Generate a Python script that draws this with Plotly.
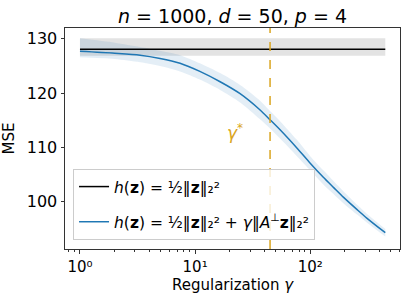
import math
import plotly.graph_objects as go

# ---- data ----
gamma = [1, 2, 3.33, 4.96, 7.4, 11, 16.5, 24.6, 36.7, 44.8, 55, 76.6, 100, 130, 160, 195,
         257, 310, 449]
mse_reg = [127.7, 127.35, 127.0, 126.4, 125.5, 124.0, 122.1, 119.9, 116.9, 115.1, 113.2,
           109.9, 107.1, 104.5, 102.6, 100.8, 98.5, 97.0, 94.3]
mse_reg_upper = [130.1, 129.3, 128.5, 127.8, 127.0, 125.5, 123.7, 121.5, 118.6, 116.7, 114.8,
                 111.4, 108.4, 105.8, 103.8, 101.9, 99.4, 97.8, 95.0]
mse_reg_lower = [126.6, 126.3, 125.7, 125.0, 124.0, 122.5, 120.6, 118.3, 115.2, 113.5, 111.6,
                 108.4, 105.8, 103.2, 101.4, 99.7, 97.6, 96.2, 93.6]

mse_base = 128.1
mse_base_upper = 130.1
mse_base_lower = 126.9

gamma_star = 44.8
gamma_label_pos = (22.0, 112.9)

title_text = "<i>n</i> = 1000, <i>d</i> = 50, <i>p</i> = 4"
legend_base = "<i>h</i>(<b>z</b>) = ½‖<b>z</b>‖₂²"
legend_reg = "<i>h</i>(<b>z</b>) = ½‖<b>z</b>‖₂² + <i>γ</i>‖<i>A</i><sup>⊥</sup><b>z</b>‖₂²"
x_title = "Regularization <i>γ</i>"
y_title = "MSE"
x_ticks = [1, 10, 100]
x_ticktext = ["10⁰", "10¹", "10²"]
x_minor_ticks = [m * 10 ** e for e in (-1, 0, 1, 2) for m in range(2, 10)]
y_ticks = [100, 110, 120, 130]

FONT = "DejaVu Sans"
BLUE = "#1f77b4"
GOLD = "#daa520"
AX = "#333333"

fig = go.Figure()

g_ends = [gamma[0], gamma[-1]]

# baseline band
fig.add_trace(go.Scatter(x=g_ends, y=[mse_base_upper] * 2, mode="lines",
                         line=dict(width=0), showlegend=False, hoverinfo="skip"))
fig.add_trace(go.Scatter(x=g_ends, y=[mse_base_lower] * 2, mode="lines",
                         line=dict(width=0), fill="tonexty",
                         fillcolor="rgba(128,128,128,0.22)", showlegend=False,
                         hoverinfo="skip"))

# regularized band
fig.add_trace(go.Scatter(x=gamma, y=mse_reg_upper, mode="lines",
                         line=dict(width=0, shape="spline", smoothing=0.8), showlegend=False,
                         hoverinfo="skip"))
fig.add_trace(go.Scatter(x=gamma, y=mse_reg_lower, mode="lines",
                         line=dict(width=0, shape="spline", smoothing=0.8), fill="tonexty",
                         fillcolor="rgba(31,119,180,0.12)", showlegend=False,
                         hoverinfo="skip"))

fig.add_trace(go.Scatter(x=g_ends, y=[mse_base] * 2, mode="lines",
                         line=dict(color="black", width=1.5), name=legend_base,
                         legendgroup="a"))
fig.add_trace(go.Scatter(x=gamma, y=mse_reg, mode="lines",
                         line=dict(color=BLUE, width=1.5, shape="spline", smoothing=0.8),
                         name=legend_reg, legendgroup="b"))

fig.add_shape(type="line", xref="x", yref="y domain", x0=gamma_star, x1=gamma_star,
              y0=0, y1=1, line=dict(color=GOLD, width=1.5, dash="dash"), layer="above")

fig.add_annotation(x=math.log10(gamma_label_pos[0]), y=gamma_label_pos[1], xref="x", yref="y",
                   text="<i>γ</i><sup>*</sup>", showarrow=False,
                   font=dict(family=FONT, size=17, color=GOLD))

fig.add_annotation(x=0.5, y=-0.162, xref="paper", yref="paper", text=x_title,
                   showarrow=False, xanchor="center", yanchor="middle",
                   font=dict(family=FONT, size=15, color="black"))

fig.update_layout(
    width=407, height=300,
    margin=dict(l=65, r=7, t=28, b=51, autoexpand=False),
    paper_bgcolor="white", plot_bgcolor="white",
    font=dict(family=FONT, size=15, color="black"),
    title=dict(text=title_text, x=0.5, xref="paper", xanchor="center", y=0.945,
               yanchor="middle", font=dict(family=FONT, size=19), automargin=False),
    legend=dict(x=0.024, y=0.362, xanchor="left", yanchor="top", traceorder="grouped",
                bgcolor="rgba(255,255,255,0.8)", bordercolor="#cccccc", borderwidth=1,
                font=dict(family=FONT, size=15.5), tracegroupgap=12, itemwidth=30),
    showlegend=True,
)

fig.update_xaxes(type="log", range=[-0.13, 2.78], tickvals=x_ticks, ticktext=x_ticktext,
                 ticks="outside", ticklen=3.5, tickcolor=AX, showline=True,
                 linecolor=AX, linewidth=1, mirror=True, showgrid=False, zeroline=False,
                 tickfont=dict(family=FONT, size=15), automargin=False,
                 minor=dict(tickvals=x_minor_ticks, ticks="outside", ticklen=2,
                            tickcolor=AX, showgrid=False))
fig.update_yaxes(range=[91.3, 132.0], tickvals=y_ticks, ticks="outside", ticklen=3.5,
                 tickcolor=AX, showline=True, linecolor=AX, linewidth=1,
                 mirror=True, showgrid=False, zeroline=False, automargin=False,
                 title=dict(text=y_title, standoff=8, font=dict(family=FONT, size=15)),
                 tickfont=dict(family=FONT, size=16))

fig.write_html("out.html", config={"displayModeBar": False},
               post_script="document.body.style.margin='0px';document.body.style.padding='0px';")
